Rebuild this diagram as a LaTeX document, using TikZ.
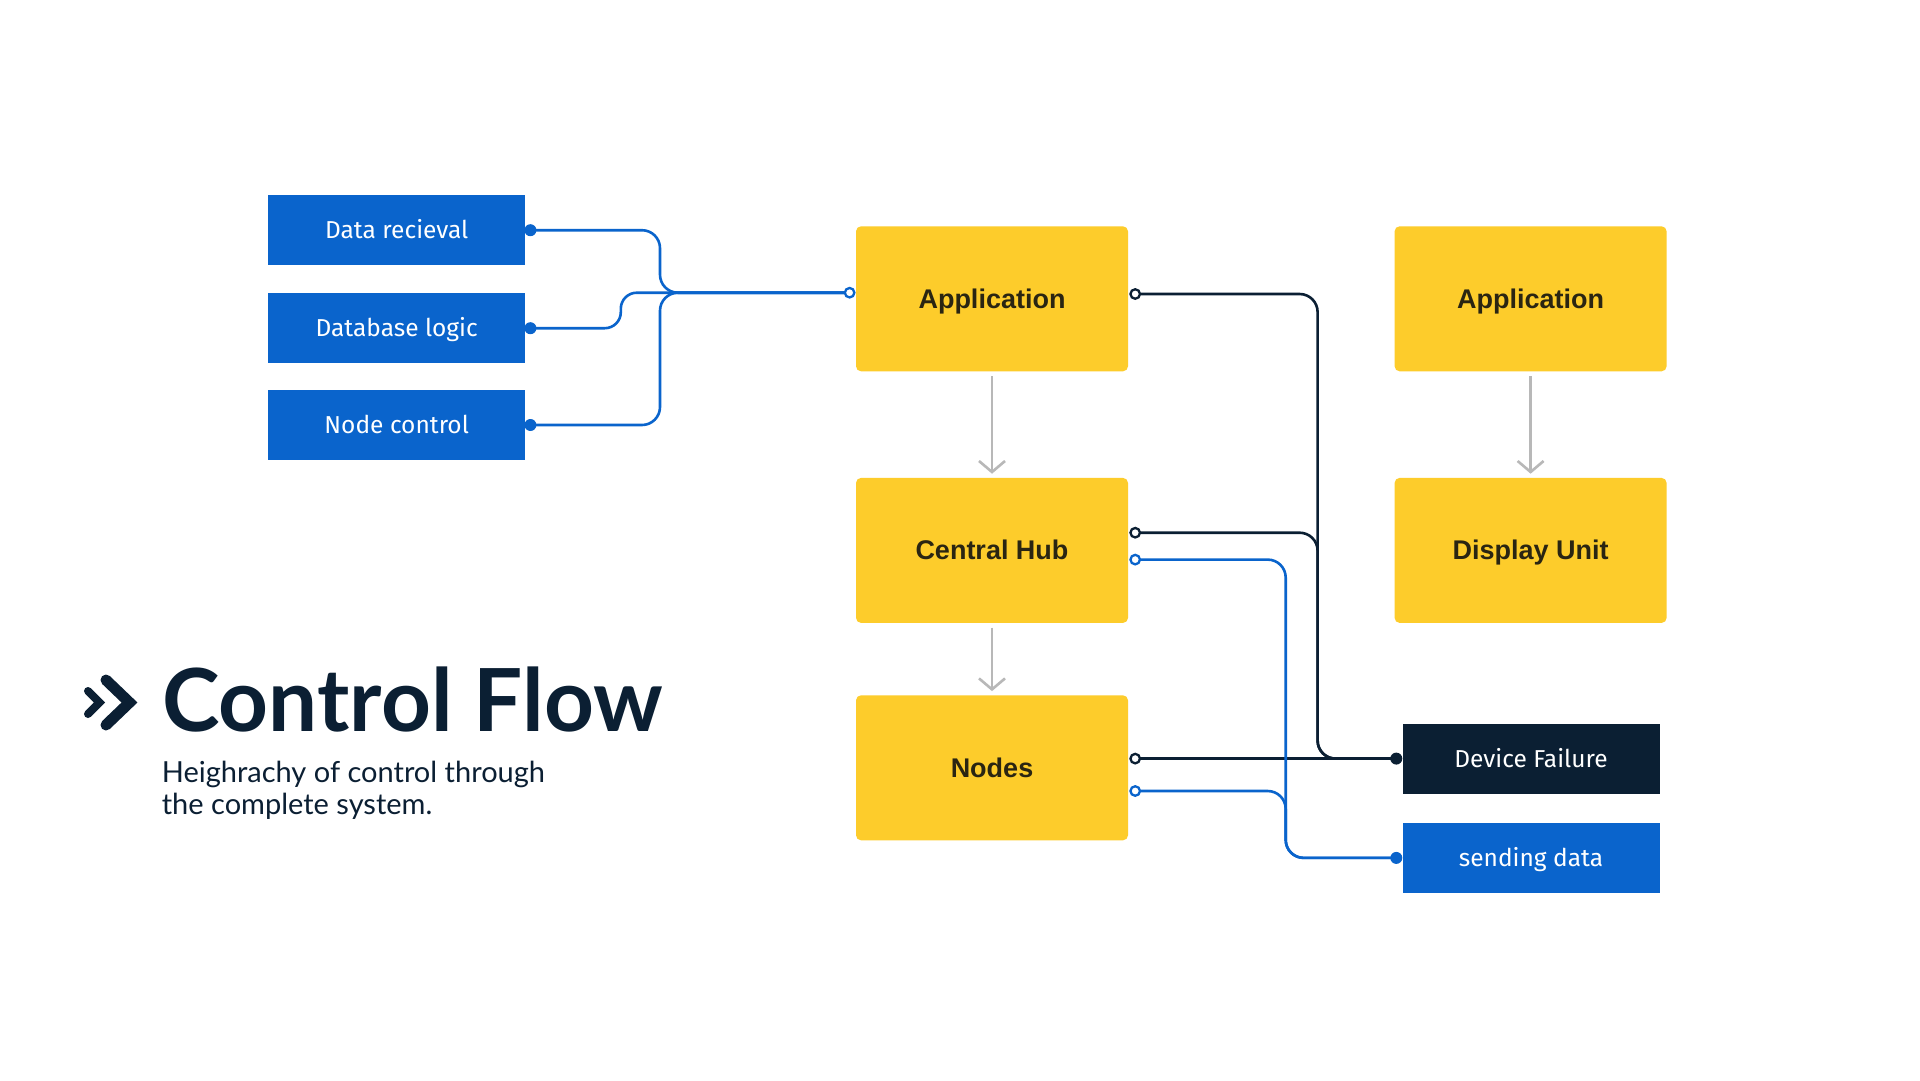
\documentclass[tikz,border=0pt]{standalone}
\usepackage{fontspec}
\setmainfont{Lato}
\newfontfamily\plexf{Fira Sans}
\newfontfamily\interf{Liberation Sans}
\usetikzlibrary{arrows.meta}
\definecolor{cfblue}{HTML}{0A64CC}
\definecolor{cfnavy}{HTML}{0B1F33}
\definecolor{cfyellow}{HTML}{FDCC2B}
\definecolor{cftext}{HTML}{2A2512}
\definecolor{cfgray}{HTML}{B8B8B8}
\begin{document}
\begin{tikzpicture}[x=1pt,y=-1pt,
  bluebox/.style={fill=cfblue, minimum width=257pt, minimum height=70pt, inner sep=0pt, text=white, text height=17pt, text depth=0pt, font=\plexf\fontsize{24.5}{28}\selectfont},
  navybox/.style={bluebox, fill=cfnavy},
  ybox/.style={fill=cfyellow, rounded corners=5pt, minimum width=272pt, minimum height=145pt, inner sep=0pt, text=cftext, text height=19pt, text depth=0pt, font=\interf\bfseries\fontsize{27}{32}\selectfont},
  bwire/.style={cfblue, line width=2.6pt, rounded corners=18pt},
  kwire/.style={cfnavy, line width=2.6pt, rounded corners=18pt},
  flow/.style={cfgray, line width=2.6pt, -{Straight Barb[length=11pt,width=26pt]}},
  openport/.style={circle, draw=#1, fill=white, line width=2.3pt, minimum size=9.5pt, inner sep=0pt},
  solidport/.style={circle, fill=#1, minimum size=12pt, inner sep=0pt},
  chev/.style={cfnavy, line width=11pt, line cap=round, line join=miter},
]
\useasboundingbox (0,0) rectangle (1920,1080);
\fill[white] (0,0) rectangle (1920,1080);

% boxes
\node[bluebox] (dr) at (396.7,230.2) {Data recieval};
\node[bluebox] (dl) at (396.7,328.2) {Database logic};
\node[bluebox] (nc) at (396.7,425) {Node control};
\node[ybox] (app) at (992,298.8) {Application};
\node[ybox] (hub) at (992,550.4) {Central Hub};
\node[ybox] (nod) at (992,767.8) {Nodes};
\node[ybox] (app2) at (1530.6,298.8) {Application};
\node[ybox] (disp) at (1530.6,550.4) {Display Unit};
\node[navybox] (fail) at (1531,758.6) {Device Failure};
\node[bluebox] (send) at (1531,857.9) {sending data};

% ports
\coordinate (p-dr) at ([shift={(5,0)}]dr.east);
\coordinate (p-dl) at ([shift={(5,0)}]dl.east);
\coordinate (p-nc) at ([shift={(5,0)}]nc.east);
\coordinate (p-appin) at ([shift={(-6.2,-6.1)}]app.west);
\coordinate (p-app) at ([shift={(7,-4.8)}]app.east);
\coordinate (p-hubk) at ([shift={(7,-17.7)}]hub.east);
\coordinate (p-hubb) at ([shift={(7,9.2)}]hub.east);
\coordinate (p-nodk) at ([shift={(7,-9.2)}]nod.east);
\coordinate (p-nodb) at ([shift={(7,23.2)}]nod.east);
\coordinate (p-fail) at ([shift={(-6,0)}]fail.west);
\coordinate (p-send) at ([shift={(-6,0)}]send.west);
% bend columns
\coordinate (xm) at (660,0);
\coordinate (xd) at (620.8,0);
\coordinate (xk) at (1317.6,0);
\coordinate (xb) at (1285.7,0);

% left wires
\draw[bwire] (p-dr) -- (p-dr -| xm) -- (xm |- p-appin) -- (p-appin);
\draw[bwire, rounded corners=16pt] (p-dl) -- (p-dl -| xd) -- (xd |- p-appin) -- (p-appin);
\draw[bwire] (p-nc) -- (p-nc -| xm) -- (xm |- p-appin) -- (p-appin);

% right wires
\draw[kwire] (p-app) -- (p-app -| xk) -- (xk |- p-fail) -- (p-fail);
\draw[kwire] (p-hubk) -- (p-hubk -| xk) -- (xk |- p-fail) -- (p-fail);
\draw[kwire] (p-nodk) -- (p-fail);
\draw[bwire] (p-hubb) -- (p-hubb -| xb) -- (xb |- p-send) -- (p-send);
\draw[bwire] (p-nodb) -- (p-nodb -| xb) -- (xb |- p-send) -- (p-send);

% port markers
\node[solidport=cfblue] (m1) at (p-dr) {};
\node[solidport=cfblue] (m2) at (p-dl) {};
\node[solidport=cfblue] (m3) at (p-nc) {};
\node[openport=cfblue] (m4) at (p-appin) {};
\node[openport=cfnavy] (m5) at (p-app) {};
\node[openport=cfnavy] (m6) at (p-hubk) {};
\node[openport=cfblue] (m7) at (p-hubb) {};
\node[openport=cfnavy] (m8) at (p-nodk) {};
\node[openport=cfblue] (m9) at (p-nodb) {};
\node[solidport=cfnavy] (m10) at (p-fail) {};
\node[solidport=cfblue] (m11) at (p-send) {};

% flow arrows
\draw[flow] ([yshift=-4.5pt]app.south) -- ([yshift=4pt]hub.north);
\draw[flow] ([yshift=-4.5pt]hub.south) -- ([yshift=4pt]nod.north);
\draw[flow] ([yshift=-4.5pt]app2.south) -- ([yshift=4pt]disp.north);

% title
\draw[chev] (106,680) -- (129.5,702.5) -- (106,725);
\draw[chev, line width=8pt] (88,691) -- (99.5,702.5) -- (88,714);
\node[anchor=base west, inner sep=0pt, text=cfnavy, font=\bfseries\fontsize{87}{100}\selectfont] (title) at (162,731) {Control Flow};
\node[anchor=base west, inner sep=0pt, text=cfnavy, align=left, font=\fontsize{29}{31.5}\selectfont] (sub) at (161.6,814) {Heighrachy of control through\\the complete system.};
\end{tikzpicture}
\end{document}
